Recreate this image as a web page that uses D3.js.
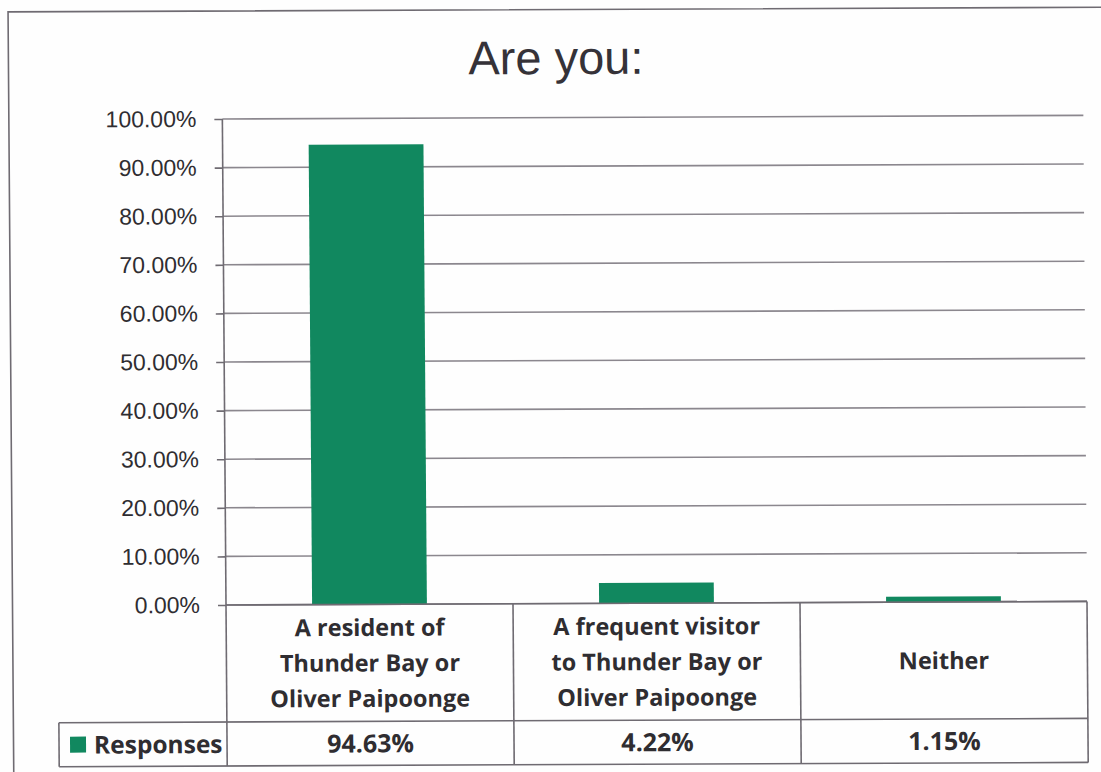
<!DOCTYPE html>
<html>
<head>
<meta charset="utf-8">
<script src="https://cdn.jsdelivr.net/npm/d3@7"></script>
<style>
  html, body { margin: 0; padding: 0; background: #fefefe; }
  svg { display: block; }
</style>
</head>
<body>
<svg id="chart" width="1101" height="772"></svg>
<script>
// ---- data ----
const categories = [
  "A resident of Thunder Bay or Oliver Paipoonge",
  "A frequent visitor to Thunder Bay or Oliver Paipoonge",
  "Neither"
];
const categoryLines = [
  ["A resident of", "Thunder Bay or", "Oliver Paipoonge"],
  ["A frequent visitor", "to Thunder Bay or", "Oliver Paipoonge"],
  ["Neither"]
];
const responses = [94.63, 4.22, 1.15];
const seriesName = "Responses";
const yTicks = [0, 10, 20, 30, 40, 50, 60, 70, 80, 90, 100];
const chartTitle = "Are you:";

// ---- layout ----
const W = 1101, H = 772;
const plot = { left: 226, right: 1087, top: 119, bottom: 605 };
const table = { labelRowBottom: 722, bottom: 766, legendLeft: 58 };
const colors = {
  bar: "#11885f",
  text: "#2f2d31",
  grid: "#8b878e",
  border: "#6f6b72"
};

const svg = d3.select("#chart");
svg.append("rect").attr("width", W).attr("height", H).attr("fill", "#fefefe");

// the whole sheet sits slightly askew on the page
const g = svg.append("g")
  .attr("transform", `translate(${plot.left},${plot.bottom}) matrix(1,-0.0042,0.0075,1,0,0) translate(${-plot.left},${-plot.bottom})`);

// outer chart frame
g.append("rect")
  .attr("x", 12.5).attr("y", 11)
  .attr("width", 1200).attr("height", 900)
  .attr("fill", "none")
  .attr("stroke", colors.border)
  .attr("stroke-width", 1.6);

// title
g.append("text")
  .attr("x", 560).attr("y", 75.4)
  .attr("text-anchor", "middle")
  .attr("font-family", "'Liberation Sans', Arial, sans-serif")
  .attr("font-size", 47)
  .attr("fill", "#353238")
  .text(chartTitle);

// scales
const y = d3.scaleLinear().domain([0, 100]).range([plot.bottom, plot.top]);
const xBar = d3.scaleBand().domain(categories)
  .range([plot.left, plot.right])
  .paddingInner(0.6).paddingOuter(0.3);
const xCol = d3.scaleBand().domain(categories)
  .range([plot.left, plot.right])
  .padding(0);

// gridlines
g.append("g").selectAll("line")
  .data(yTicks)
  .join("line")
  .attr("x1", plot.left).attr("x2", plot.right)
  .attr("y1", d => y(d)).attr("y2", d => y(d))
  .attr("stroke", colors.grid)
  .attr("stroke-width", 1.6);

// y axis with percentage labels
const yAxis = g.append("g")
  .attr("transform", `translate(${plot.left},0)`)
  .call(d3.axisLeft(y)
    .tickValues(yTicks)
    .tickSize(8)
    .tickPadding(18)
    .tickFormat(d => d.toFixed(2) + "%"));
yAxis.select(".domain").remove();
yAxis.selectAll(".tick line").attr("stroke", colors.border).attr("stroke-width", 1.6);
yAxis.selectAll(".tick text")
  .attr("font-family", "'Liberation Sans', Arial, sans-serif")
  .attr("font-size", 23)
  .attr("fill", colors.text);

// bars
g.append("g").selectAll("rect")
  .data(categories)
  .join("rect")
  .attr("x", d => xBar(d))
  .attr("width", xBar.bandwidth())
  .attr("y", (d, i) => y(responses[i]))
  .attr("height", (d, i) => y(0) - y(responses[i]))
  .attr("fill", colors.bar);

// data table: vertical rules
const tableLines = g.append("g")
  .attr("stroke", colors.border)
  .attr("stroke-width", 1.6)
  .attr("fill", "none");

tableLines.append("line")
  .attr("x1", plot.left).attr("x2", plot.left)
  .attr("y1", plot.top).attr("y2", table.bottom);
tableLines.selectAll("line.col")
  .data(categories)
  .join("line")
  .attr("class", "col")
  .attr("x1", d => xCol(d) + xCol.bandwidth())
  .attr("x2", d => xCol(d) + xCol.bandwidth())
  .attr("y1", plot.bottom).attr("y2", table.bottom);
// horizontal rules
tableLines.append("line")
  .attr("x1", plot.left).attr("x2", plot.right)
  .attr("y1", plot.bottom).attr("y2", plot.bottom);
tableLines.append("line")
  .attr("x1", table.legendLeft).attr("x2", plot.right)
  .attr("y1", table.labelRowBottom).attr("y2", table.labelRowBottom);
tableLines.append("line")
  .attr("x1", table.legendLeft).attr("x2", plot.right)
  .attr("y1", table.bottom).attr("y2", table.bottom);
tableLines.append("line")
  .attr("x1", table.legendLeft).attr("x2", table.legendLeft)
  .attr("y1", table.labelRowBottom).attr("y2", table.bottom);

const boldFont = "'Open Sans', 'Noto Sans', sans-serif";

// category labels
const labelMid = (plot.bottom + table.labelRowBottom) / 2;
const lineGap = 35.5;
g.append("g").selectAll("text")
  .data(categories)
  .join("text")
  .attr("text-anchor", "middle")
  .attr("font-family", boldFont)
  .attr("font-weight", 700)
  .attr("font-size", 23.5)
  .attr("fill", colors.text)
  .each(function (d, i) {
    const lines = categoryLines[i];
    const cx = xCol(d) + xCol.bandwidth() / 2;
    d3.select(this).selectAll("tspan")
      .data(lines)
      .join("tspan")
      .attr("x", cx)
      .attr("y", (l, j) => labelMid + 8.5 + (j - (lines.length - 1) / 2) * lineGap)
      .text(l => l);
  });

// value row
const valueMid = (table.labelRowBottom + table.bottom) / 2;
g.append("g").selectAll("text")
  .data(categories)
  .join("text")
  .attr("x", d => xCol(d) + xCol.bandwidth() / 2)
  .attr("y", valueMid + 9)
  .attr("text-anchor", "middle")
  .attr("font-family", boldFont)
  .attr("font-weight", 700)
  .attr("font-size", 25)
  .attr("fill", colors.text)
  .text((d, i) => responses[i].toFixed(2) + "%");

// legend key in the table
g.append("rect")
  .attr("x", 69).attr("y", valueMid - 8)
  .attr("width", 16).attr("height", 16)
  .attr("fill", colors.bar);
g.append("text")
  .attr("x", 93).attr("y", valueMid + 9)
  .attr("font-family", boldFont)
  .attr("font-weight", 700)
  .attr("font-size", 24.5)
  .attr("fill", colors.text)
  .text(seriesName);
</script>
</body>
</html>
